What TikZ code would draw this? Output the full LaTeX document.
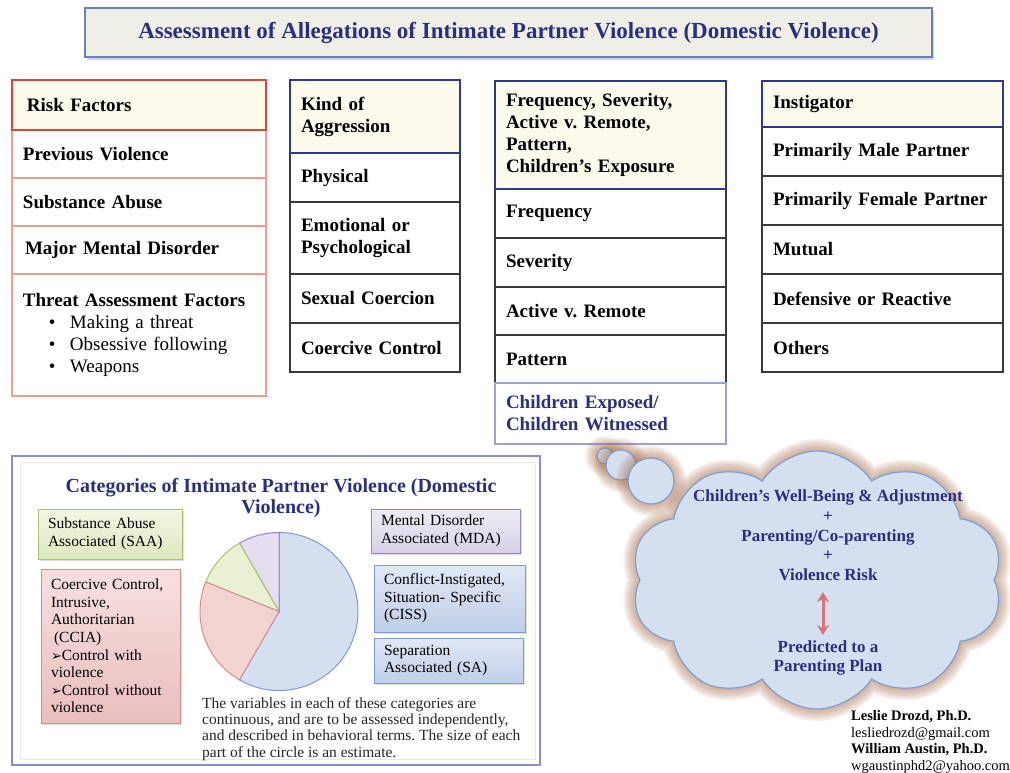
\documentclass[tikz,border=0pt]{standalone}
\usepackage{fontspec}
\setmainfont{Liberation Serif}
\newfontfamily\dingfont{DejaVu Sans}
\usetikzlibrary{shapes.symbols,shadows,arrows.meta}
\frenchspacing

\definecolor{ipvnavy}{HTML}{2B2F80}
\definecolor{headfill}{HTML}{FCFBEB}
\definecolor{riskred}{HTML}{D8453B}
\definecolor{risksoft}{HTML}{EC9D94}
\definecolor{headblue}{HTML}{2F3A8E}
\definecolor{cellgray}{HTML}{3A3A3A}
\definecolor{lavender}{HTML}{9CA0D6}
\definecolor{titlefill}{HTML}{EFEEE7}
\definecolor{titleline}{HTML}{6E7EBB}
\definecolor{panelline}{HTML}{8D8DCB}
\definecolor{pieblue}{HTML}{7E9CD0}
\definecolor{piebluefill}{HTML}{D5DFF0}
\definecolor{piered}{HTML}{D38E8C}
\definecolor{pieredfill}{HTML}{F3D3D2}
\definecolor{piegreen}{HTML}{A8C470}
\definecolor{piegreenfill}{HTML}{EAF1D3}
\definecolor{piepurple}{HTML}{9584BE}
\definecolor{piepurplefill}{HTML}{E4DEEE}
\definecolor{cloudfill}{HTML}{D4E0F0}
\definecolor{cloudline}{HTML}{7E9FCF}
\definecolor{cloudglow}{HTML}{A86F4E}
\definecolor{arrowred}{HTML}{D9737B}

\newcommand{\tick}{{\dingfont\fontsize{13}{13}\selectfont ➢}}

\tikzset{
  cell/.style={draw=cellgray, line width=1.2pt, anchor=north west, align=left, outer sep=0pt,
    inner xsep=11pt, inner ysep=0pt, font=\bfseries\fontsize{19}{22}\selectfont},
  head/.style={cell, draw=headblue, line width=2.6pt, fill=headfill},
  riskcell/.style={cell, draw=risksoft, line width=1.4pt},
  riskhead/.style={head, draw=riskred},
  colA/.style={text width=232pt, minimum width=254pt},
  colB/.style={text width=148pt, minimum width=170pt},
  colC/.style={text width=209pt, minimum width=231pt},
  colD/.style={text width=219pt, minimum width=241pt},
  catbox/.style={draw=#1, line width=1pt, anchor=north west, align=left, outer sep=0pt,
    inner xsep=10pt, inner ysep=0pt, font=\fontsize{15.5}{17.6}\selectfont,
    drop shadow={shadow xshift=1.5pt, shadow yshift=-2pt, opacity=0.25}},
  slice/.style={line width=1pt, draw=#1, fill=#1fill},
  glow/.style={preaction={draw=cloudglow, draw opacity=0.11, line width=#1}},
  cloudy/.style={draw=cloudline, fill=cloudfill, line width=1.2pt,
    glow=24pt, glow=20pt, glow=16pt, glow=12pt, glow=8pt, glow=4pt},
  cloudtext/.style={align=center, inner sep=0pt, text=ipvnavy, font=\bfseries\fontsize{17}{19.7}\selectfont},
  twohead/.style={{Stealth[length=10pt,width=12pt]}-{Stealth[length=10pt,width=12pt]}, line width=3pt, draw=arrowred},
}

\begin{document}
\begin{tikzpicture}[x=1pt, y=1pt]
\useasboundingbox (0,0) rectangle (1010,-772);
\fill[white] (0,0) rectangle (1010,-772);

% heading
\node[draw=titleline, line width=1.8pt, fill=titlefill, minimum width=847pt, minimum height=49pt,
  drop shadow={shadow xshift=2pt, shadow yshift=-3pt, opacity=0.3}, text=ipvnavy,
  font=\bfseries\fontsize{23}{26}\selectfont] (title) at (508.5,-32.5)
  {Assessment of Allegations of Intimate Partner Violence (Domestic Violence)};

% risk factors
\node[riskcell, colA, minimum height=48pt] (prev) at (12,-130) {Previous Violence};
\node[riskcell, colA, minimum height=48pt] (subst) at (12,-178) {Substance Abuse};
\node[riskcell, colA, minimum height=48pt] (mental) at (12,-226) {\hspace*{2pt}Major Mental Disorder};
\node[riskcell, colA, minimum height=122pt] (threat) at (12,-274) {Threat Assessment Factors\\
  \mdseries\hspace*{26pt}\makebox[21pt][l]{\textbullet}Making a threat\\
  \hspace*{26pt}\makebox[21pt][l]{\textbullet}Obsessive following\\
  \hspace*{26pt}\makebox[21pt][l]{\textbullet}Weapons};
\node[riskhead, colA, minimum height=50pt] (risk) at (12,-80) {\hspace*{4pt}Risk Factors};

% kind of aggression
\node[cell, colB, minimum height=49pt] (phys) at (290,-153) {Physical};
\node[cell, colB, minimum height=72pt] (emo) at (290,-202) {Emotional or\\Psychological};
\node[cell, colB, minimum height=49pt] (sexual) at (290,-274) {Sexual Coercion\\[6pt]};
\node[cell, colB, minimum height=49pt] (coerce) at (290,-323) {Coercive Control};
\node[head, colB, minimum height=73pt] (kind) at (290,-80) {Kind of\\Aggression};

% frequency, severity ...
\node[cell, colC, minimum height=49pt] (freq) at (495,-189) {Frequency};
\node[cell, colC, minimum height=49pt] (sev) at (495,-238) {Severity};
\node[cell, colC, minimum height=48pt] (active) at (495,-287) {Active v.\ Remote};
\node[cell, colC, minimum height=48pt] (pattern) at (495,-335) {Pattern};
\node[cell, colC, minimum height=61pt, draw=lavender, text=ipvnavy] (exposed) at (495,-383)
  {Children Exposed/\\Children Witnessed};
\node[head, colC, minimum height=108pt] (fsa) at (495,-81)
  {Frequency, Severity,\\Active v.\ Remote,\\Pattern,\\Children's Exposure};

% instigator
\node[cell, colD, minimum height=49pt] (male) at (762,-127) {Primarily Male Partner};
\node[cell, colD, minimum height=49pt] (female) at (762,-176) {Primarily Female Partner};
\node[cell, colD, minimum height=49pt] (mutual) at (762,-225) {Mutual};
\node[cell, colD, minimum height=49pt] (defend) at (762,-274) {Defensive or Reactive};
\node[cell, colD, minimum height=49pt] (others) at (762,-323) {Others};
\node[head, colD, minimum height=46pt] (instig) at (762,-81) {Instigator};

% categories panel
\node[draw=panelline, line width=1.6pt, anchor=north west, outer sep=0pt,
  minimum width=528pt, minimum height=309pt] (panel) at (12,-456) {};
\draw[gray!18, line width=0.6pt] ([shift={(8pt,-6pt)}]panel.north west) rectangle ([shift={(-5pt,6pt)}]panel.south east);
\node[align=center, text=ipvnavy, font=\bfseries\fontsize{20}{21}\selectfont] (cattitle) at (281,-498.5)
  {Categories of Intimate Partner Violence (Domestic\\Violence)};

\node[catbox=piegreen, top color=piegreenfill!60, bottom color=piegreenfill!80!piegreen,
  text width=124pt, minimum width=144pt, minimum height=50pt] (saa) at (38,-509)
  {Substance Abuse\\Associated (SAA)};
\node[catbox=piered, top color=pieredfill!70, bottom color=pieredfill!70!piered,
  text width=119pt, minimum width=139pt, minimum height=154pt] (ccia) at (41,-569)
  {Coercive Control,\\Intrusive,\\Authoritarian\\\hspace*{3pt}(CCIA)\\\tick Control with\\violence\\\tick Control without\\violence};
\node[catbox=piepurple, top color=piepurplefill!60, bottom color=piepurplefill!85!piepurple,
  text width=129pt, minimum width=149pt, minimum height=44pt] (mda) at (371,-509)
  {Mental Disorder\\Associated (MDA)};
\node[catbox=pieblue, top color=piebluefill!70, bottom color=piebluefill!75!pieblue,
  text width=131pt, minimum width=151pt, minimum height=67pt] (ciss) at (374,-565)
  {Conflict-Instigated,\\Situation- Specific\\(CISS)};
\node[catbox=pieblue, top color=piebluefill!70, bottom color=piebluefill!75!pieblue,
  text width=129pt, minimum width=149pt, minimum height=45pt] (sa) at (374,-638)
  {Separation\\Associated (SA)};

% pie
\coordinate (piec) at (279,-611.5);
\begin{scope}[shift={(piec)}]
  \filldraw[slice=pieblue] (0,0) -- (-120:79) arc[start angle=-120, end angle=90, radius=79] -- cycle;
  \filldraw[slice=piepurple] (0,0) -- (90:79) arc[start angle=90, end angle=120, radius=79] -- cycle;
  \filldraw[slice=piegreen] (0,0) -- (120:79) arc[start angle=120, end angle=158, radius=79] -- cycle;
  \filldraw[slice=piered] (0,0) -- (158:79) arc[start angle=158, end angle=240, radius=79] -- cycle;
\end{scope}

\node[anchor=north west, align=left, inner sep=0pt, text=black!85, font=\fontsize{15.5}{16.4}\selectfont] (note) at (202,-697)
  {The variables in each of these categories are\\
   continuous, and are to be assessed independently,\\
   and described in behavioral terms. The size of each\\
   part of the circle is an estimate.};

% thought cloud
\node[circle, cloudy, minimum size=16pt] (bub1) at (605,-456) {};
\node[circle, cloudy, minimum size=30pt] (bub2) at (621,-465) {};
\node[circle, cloudy, minimum size=46pt] (bub3) at (651,-481) {};
\node[cloud, cloudy, cloud puffs=10, cloud puff arc=115, aspect=1.45,
  minimum width=372pt, minimum height=258pt] (thought) at (817,-580) {};

\node[cloudtext] (wellbeing) at (828,-535.5)
  {Children's Well-Being \& Adjustment\\+\\Parenting/Co-parenting\\+\\Violence Risk};
\node[cloudtext, font=\bfseries\fontsize{17}{19}\selectfont] (plan) at (828,-657.5)
  {Predicted to a\\Parenting Plan};
\draw[twohead] ([xshift=-5pt,yshift=-11pt]wellbeing.south) -- ([xshift=-5pt,yshift=5pt]plan.north);

\node[anchor=north west, align=left, inner sep=0pt, font=\fontsize{14.5}{16.8}\selectfont] (authors) at (851,-710)
  {\textbf{Leslie Drozd, Ph.D.}\\lesliedrozd@gmail.com\\\textbf{William Austin, Ph.D.}\\wgaustinphd2@yahoo.com};
\end{tikzpicture}
\end{document}
